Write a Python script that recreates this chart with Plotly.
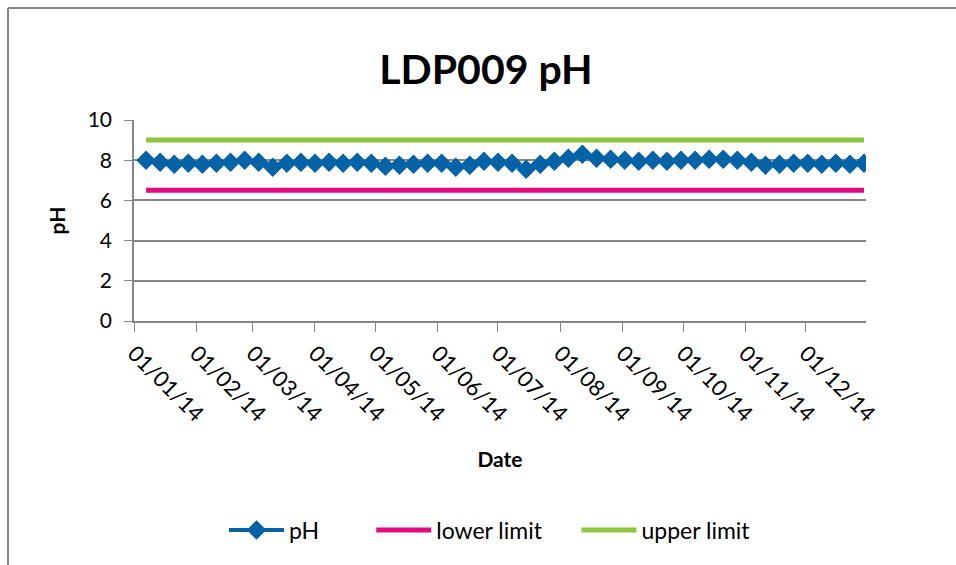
import plotly.graph_objects as go

# Weekly pH readings at LDP009 during 2014
dates = [
    "2014-01-07", "2014-01-14", "2014-01-21", "2014-01-28",
    "2014-02-04", "2014-02-11", "2014-02-18", "2014-02-25",
    "2014-03-04", "2014-03-11", "2014-03-18", "2014-03-25",
    "2014-04-01", "2014-04-08", "2014-04-15", "2014-04-22", "2014-04-29",
    "2014-05-06", "2014-05-13", "2014-05-20", "2014-05-27",
    "2014-06-03", "2014-06-10", "2014-06-17", "2014-06-24",
    "2014-07-01", "2014-07-08", "2014-07-15", "2014-07-22", "2014-07-29",
    "2014-08-05", "2014-08-12", "2014-08-19", "2014-08-26",
    "2014-09-02", "2014-09-09", "2014-09-16", "2014-09-23", "2014-09-30",
    "2014-10-07", "2014-10-14", "2014-10-21", "2014-10-28",
    "2014-11-04", "2014-11-11", "2014-11-18", "2014-11-25",
    "2014-12-02", "2014-12-09", "2014-12-16", "2014-12-23", "2014-12-30",
]
ph_values = [
    8.0, 7.9, 7.8, 7.85,
    7.8, 7.85, 7.9, 8.0,
    7.9, 7.65, 7.85, 7.9,
    7.85, 7.9, 7.85, 7.9, 7.85,
    7.7, 7.75, 7.8, 7.85,
    7.85, 7.65, 7.75, 7.95,
    7.9, 7.85, 7.55, 7.8, 7.95,
    8.1, 8.3, 8.1, 8.05,
    8.0, 7.95, 8.0, 7.95, 8.0,
    8.0, 8.05, 8.05, 8.0,
    7.9, 7.75, 7.8, 7.85,
    7.85, 7.8, 7.85, 7.8, 7.85,
]
lower_limit = 6.5
upper_limit = 9.0

month_ticks = [
    "2014-01-01", "2014-02-01", "2014-03-01", "2014-04-01",
    "2014-05-01", "2014-06-01", "2014-07-01", "2014-08-01",
    "2014-09-01", "2014-10-01", "2014-11-01", "2014-12-01",
]
month_labels = [
    "01/01/14", "01/02/14", "01/03/14", "01/04/14",
    "01/05/14", "01/06/14", "01/07/14", "01/08/14",
    "01/09/14", "01/10/14", "01/11/14", "01/12/14",
]
y_ticks = [0, 2, 4, 6, 8, 10]

W, H = 956, 565
ML, MR, MT, MB = 134, 90, 120, 244
FONT = "Lato, 'Open Sans', sans-serif"
GRID = "#868686"
NBSP = "\u00a0"  # extra room after legend entries

fig = go.Figure()
fig.add_trace(go.Scatter(
    x=dates, y=ph_values, name="pH" + NBSP * 8, mode="lines+markers",
    line=dict(color="#0462A6", width=4),
    marker=dict(symbol="diamond", size=15, color="#0462A6"),
))
fig.add_trace(go.Scatter(
    x=dates, y=[lower_limit] * len(dates), name="lower limit" + NBSP * 5,
    mode="lines", line=dict(color="#E5097F", width=5),
))
fig.add_trace(go.Scatter(
    x=dates, y=[upper_limit] * len(dates), name="upper limit", mode="lines",
    line=dict(color="#8DC63F", width=5),
))

# outer chart frame (top and left edges)
pw = W - ML - MR
ph = H - MT - MB
x_left = (8 - ML) / pw
x_right = (W - ML) / pw
y_top = (H - MB - 8) / ph
y_bottom = (H - MB - H) / ph
frame = dict(type="line", xref="paper", yref="paper",
             line=dict(color=GRID, width=2), layer="below")

fig.update_layout(
    width=W, height=H,
    margin=dict(l=ML, r=MR, t=MT, b=MB),
    paper_bgcolor="white", plot_bgcolor="white",
    font=dict(family=FONT, color="black"),
    title=dict(text="<b>LDP009 pH</b>", x=486 / W, xanchor="center",
               y=1 - 70 / H, yanchor="middle",
               font=dict(size=41, family=FONT)),
    showlegend=True,
    legend=dict(orientation="h", x=(490 - ML) / pw, xanchor="center",
                y=(H - MB - 530) / ph, yanchor="middle",
                font=dict(size=23), itemwidth=55, traceorder="normal"),
    xaxis=dict(
        type="date", range=["2014-01-01", "2014-12-31"],
        tickvals=month_ticks, ticktext=month_labels, tickangle=45,
        tickfont=dict(size=22), ticks="outside", ticklen=9, tickcolor=GRID,
        showline=True, linecolor=GRID, linewidth=1.5, showgrid=False,
        title=dict(text="<b>Date</b>", font=dict(size=21), standoff=26),
        zeroline=False,
    ),
    yaxis=dict(
        range=[0, 10], tickvals=y_ticks, tickfont=dict(size=21),
        ticks="outside", ticklen=8, tickcolor=GRID, ticklabelstandoff=8,
        showline=True, linecolor=GRID, linewidth=1.5,
        showgrid=True, gridcolor=GRID, gridwidth=1.5,
        title=dict(text="<b>pH</b>", font=dict(size=21), standoff=16),
        zeroline=False,
    ),
    shapes=[
        dict(frame, x0=x_left, x1=x_right, y0=y_top, y1=y_top),
        dict(frame, x0=x_left, x1=x_left, y0=y_top, y1=y_bottom),
    ],
)

fig.write_html("out.html")
